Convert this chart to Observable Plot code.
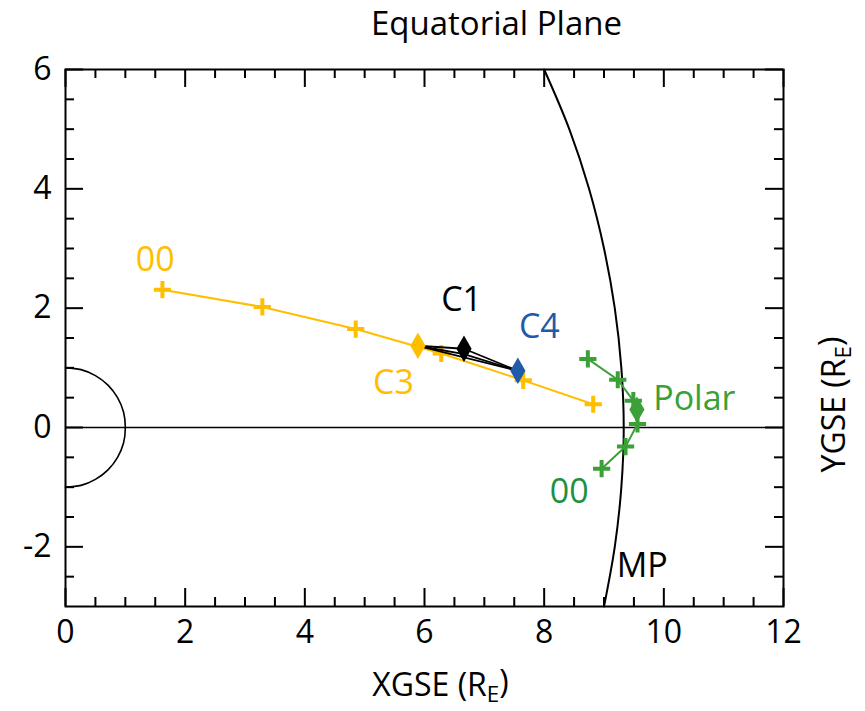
<!DOCTYPE html>
<html><head><meta charset="utf-8">
<script src="https://cdn.jsdelivr.net/npm/d3@7"></script>
<script src="https://cdn.jsdelivr.net/npm/@observablehq/plot@0.6"></script>
<style>
body{margin:0;background:#fff;}
svg{display:block;font-family:"Open Sans",sans-serif;}
</style>
</head><body><div id="chart"></div>
<script>
// ---- data ----
const xTicks = [0, 2, 4, 6, 8, 10, 12];
const yTicks = [-2, 0, 2, 4, 6];
const xDomain = [0, 12];
const yDomain = [-3, 6];

// Cluster C3 orbit track (hourly crosses), starting at "00"
const c3TrackX = [1.62, 3.29, 4.85, 6.28, 7.65, 8.82];
const c3TrackY = [2.31, 2.02, 1.65, 1.24, 0.79, 0.39];

// Polar orbit track (hourly crosses), starting at "00"
const polarTrackX = [8.96, 9.36, 9.56, 9.49, 9.23, 8.73];
const polarTrackY = [-0.69, -0.32, 0.06, 0.45, 0.80, 1.15];

// Spacecraft positions at event time
const scNames = ["C3", "C1", "C2", "C4", "Polar"];
const scX = [5.89, 6.66, 6.66, 7.56, 9.55];
const scY = [1.37, 1.32, 1.23, 0.95, 0.30];
const scDrawn = [true, true, false, true, true];
const scColors = ["#FFBE00", "#000000", "#000000", "#1F5BA8", "#3AA037"];

// Tetrahedron edges (projected)
const edgeFrom = ["C3", "C1", "C4", "C3", "C2", "C1"];
const edgeTo   = ["C1", "C4", "C3", "C2", "C4", "C2"];

// Magnetopause (MP) curve
const mpX = [9.00, 9.18, 9.29, 9.33, 9.29, 9.18, 9.00, 8.75, 8.42, 8.00];
const mpY = [-3, -2, -1, 0, 1, 2, 3, 4, 5, 6];

// Earth (unit circle, dayside half)
const earthX = [0, 0.26, 0.5, 0.71, 0.87, 0.97, 1, 0.97, 0.87, 0.71, 0.5, 0.26, 0];
const earthY = [1, 0.97, 0.87, 0.71, 0.5, 0.26, 0, -0.26, -0.5, -0.71, -0.87, -0.97, -1];

// Annotations
const labelText  = ["00", "C1", "C4", "C3", "Polar", "00", "MP"];
const labelX     = [1.50, 6.62, 7.92, 5.48, 10.51, 8.42, 9.64];
const labelY     = [2.80, 2.14, 1.68, 0.75, 0.47, -1.09, -2.33];
const labelColor = ["#FFBE00", "#000000", "#1F5BA8", "#FFBE00", "#3AA037", "#1E9140", "#000000"];

const title = "Equatorial Plane";
const xLabel = "XGSE (RE)";
const yLabel = "YGSE (RE)";

// ---- build tables ----
const c3Track = c3TrackX.map((x, i) => ({x, y: c3TrackY[i]}));
const polarTrack = polarTrackX.map((x, i) => ({x, y: polarTrackY[i]}));
const sc = scNames.map((n, i) => ({name: n, x: scX[i], y: scY[i], color: scColors[i], drawn: scDrawn[i]}));
const scByName = Object.fromEntries(sc.map(d => [d.name, d]));
const edges = edgeFrom.map((f, i) => ({a: scByName[f], b: scByName[edgeTo[i]]}));
const mp = mpX.map((x, i) => ({x, y: mpY[i]}));
const earth = earthX.map((x, i) => ({x, y: earthY[i]}));
const labels = labelText.map((t, i) => ({t, x: labelX[i], y: labelY[i], c: labelColor[i]}));

const width = 865, height = 711;
const mL = 65, mR = 82, mT = 69, mB = 105;
const innerW = width - mL - mR, innerH = height - mT - mB;
const majorLen = 18, minorLen = 9;

const isMajorX = v => xTicks.includes(v);
const isMajorY = v => yTicks.includes(v);
const xMinor = d3.range(0.5, 12, 0.5).filter(v => !isMajorX(v));
const yMinor = d3.range(-2.5, 6, 0.5).filter(v => !isMajorY(v));

const tickStyle = {stroke: "black", strokeWidth: 2};

const plot = Plot.plot({
  width, height,
  marginLeft: mL, marginRight: mR, marginTop: mT, marginBottom: mB,
  x: {domain: xDomain},
  y: {domain: yDomain},
  style: {fontFamily: "'Open Sans', sans-serif", background: "white"},
  marks: [
    // Earth and y=0 line
    Plot.ruleY([0], {stroke: "black", strokeWidth: 1.5}),
    Plot.line(earth, {x: "x", y: "y", curve: "catmull-rom", stroke: "black", strokeWidth: 1.6}),
    // Magnetopause
    Plot.line(mp, {x: "x", y: "y", curve: "catmull-rom", stroke: "black", strokeWidth: 2}),
    // C3 track
    Plot.line(c3Track, {x: "x", y: "y", stroke: "#FFBE00", strokeWidth: 2}),
    Plot.dot(c3Track, {x: "x", y: "y", symbol: "plus", r: 5.6, stroke: "#FFBE00", strokeWidth: 4, strokeLinecap: "butt"}),
    // Polar track
    Plot.line(polarTrack, {x: "x", y: "y", stroke: "#3AA037", strokeWidth: 2}),
    Plot.dot(polarTrack, {x: "x", y: "y", symbol: "plus", r: 5.6, stroke: "#3AA037", strokeWidth: 4, strokeLinecap: "butt"}),
    // Tetrahedron edges
    Plot.link(edges, {x1: d => d.a.x, y1: d => d.a.y, x2: d => d.b.x, y2: d => d.b.y, stroke: "black", strokeWidth: 1.8}),
    // Spacecraft
    Plot.dot(sc.filter(d => d.drawn), {x: "x", y: "y", symbol: "diamond", r: 8, fill: d => d.color, stroke: "none"}),
    // Labels
    Plot.text(labels, {x: "x", y: "y", text: "t", fill: d => d.c, fontSize: 34}),
    // Frame
    Plot.frame({stroke: "black", strokeWidth: 2}),
    // Inward ticks: bottom/top
    Plot.tickX(xTicks, {x: d => d, insetTop: innerH - majorLen, ...tickStyle}),
    Plot.tickX(xTicks, {x: d => d, insetBottom: innerH - majorLen, ...tickStyle}),
    Plot.tickX(xMinor, {x: d => d, insetTop: innerH - minorLen, ...tickStyle}),
    Plot.tickX(xMinor, {x: d => d, insetBottom: innerH - minorLen, ...tickStyle}),
    // Inward ticks: left/right
    Plot.tickY(yTicks, {y: d => d, insetRight: innerW - majorLen, ...tickStyle}),
    Plot.tickY(yTicks, {y: d => d, insetLeft: innerW - majorLen, ...tickStyle}),
    Plot.tickY(yMinor, {y: d => d, insetRight: innerW - minorLen, ...tickStyle}),
    Plot.tickY(yMinor, {y: d => d, insetLeft: innerW - minorLen, ...tickStyle}),
    // Tick labels
    Plot.axisX({ticks: xTicks, tickSize: 0, tickPadding: 14, fontSize: 32, label: null, tickFormat: d => String(d), fill: "black"}),
    Plot.axisY({ticks: yTicks, tickSize: 0, tickPadding: 14, fontSize: 32, label: null, tickFormat: d => String(d), fill: "black"}),
    // Title and axis titles
    Plot.text([title], {frameAnchor: "top-left", dx: 431, dy: -45, text: d => d, fontSize: 33, fill: "black", textAnchor: "middle", lineAnchor: "middle"}),
    Plot.text([xLabel], {frameAnchor: "bottom-left", dx: 375, dy: 79, text: d => d, fontSize: 32, fill: "black", textAnchor: "middle", lineAnchor: "middle", className: "sublabel"}),
    Plot.text([yLabel], {frameAnchor: "top-right", dx: 51, dy: 335, rotate: -90, text: d => d, fontSize: 32, fill: "black", textAnchor: "middle", lineAnchor: "middle", className: "sublabel"})
  ]
});

// subscript E in axis titles
d3.select(plot).selectAll("g.sublabel text").each(function() {
  const t = d3.select(this);
  const s = t.text();
  const base = s.replace("(RE)", "(R");
  t.text(null);
  t.append("tspan").text(base);
  t.append("tspan").attr("font-size", "0.7em").attr("dy", "0.3em").text("E");
  t.append("tspan").attr("dy", "-0.3em").text(")");
});

document.getElementById("chart").append(plot);
</script>
</body></html>
